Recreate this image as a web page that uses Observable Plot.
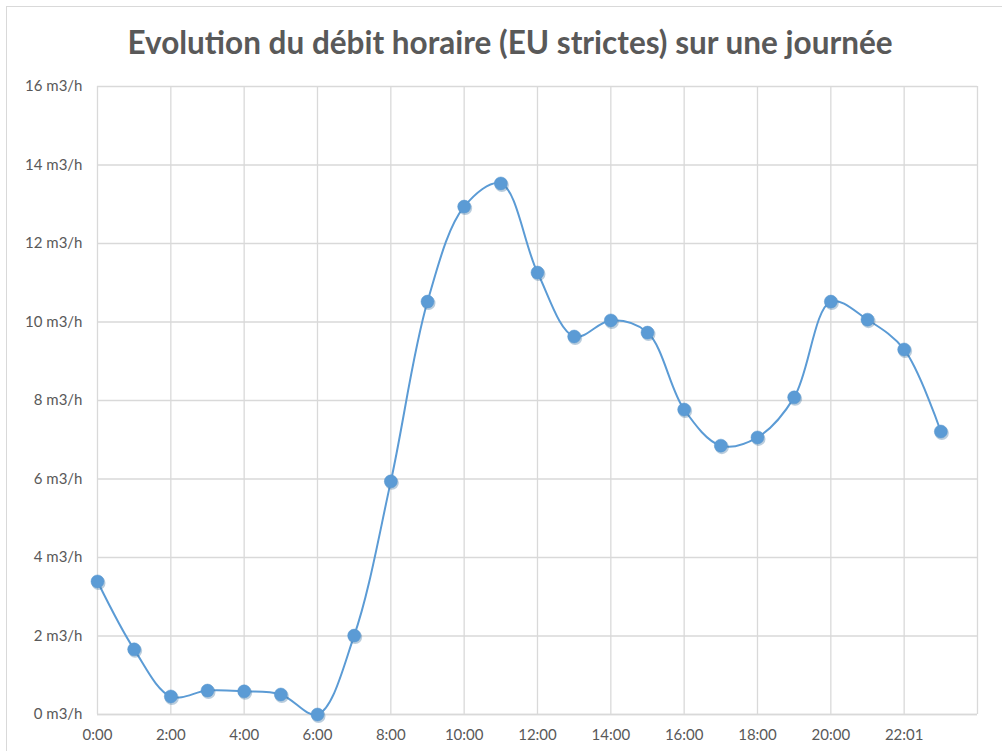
<!DOCTYPE html>
<html>
<head>
<meta charset="utf-8">
<script src="https://cdn.jsdelivr.net/npm/d3@7"></script>
<script src="https://cdn.jsdelivr.net/npm/@observablehq/plot@0.6"></script>
<style>
  html, body { margin: 0; padding: 0; background: #fff; }
  #wrap { position: relative; width: 1002px; height: 751px; overflow: hidden; }
  #frame { position: absolute; left: 6px; top: 6px; width: 1010px; height: 760px;
           border-left: 1.5px solid #d9d9d9; border-top: 1.5px solid #d9d9d9; box-sizing: border-box; }
  #title { position: absolute; left: 0; top: 23px; width: 1020px; text-align: center;
           font-family: Lato, "Open Sans", sans-serif; font-weight: bold; font-size: 31.5px; color: #595959; }
  #chart { position: absolute; left: 0; top: 70px; }
</style>
</head>
<body>
<div id="wrap">
  <div id="frame"></div>
  <div id="title">Evolution du débit horaire (EU strictes) sur une journée</div>
  <div id="chart"></div>
</div>
<script>
const hours = [0,1,2,3,4,5,6,7,8,9,10,11,12,13,14,15,16,17,18,19,20,21,22,23];
const debit = [3.39,1.66,0.46,0.61,0.59,0.51,0.0,2.01,5.94,10.52,12.94,13.53,11.26,9.63,10.04,9.73,7.77,6.85,7.06,8.08,10.52,10.06,9.30,7.21];
const xTicks = [0,2,4,6,8,10,12,14,16,18,20,22];
const xTickLabels = ["0:00","2:00","4:00","6:00","8:00","10:00","12:00","14:00","16:00","18:00","20:00","22:01"];
const xGrid = [0,2,4,6,8,10,12,14,16,18,20,22,24];
const yTicks = [0,2,4,6,8,10,12,14,16];
const yUnit = "m3/h";

const data = hours.map((h, i) => ({h, v: debit[i]}));
const font = "Lato, 'Open Sans', sans-serif";
const labelColor = "#595959";
const gridColor = "#d9d9d9";
const blue = "#5b9bd5";

const chart = Plot.plot({
  width: 1002,
  height: 681,
  marginLeft: 97,
  marginRight: 25,
  marginTop: 16,
  marginBottom: 37,
  style: {fontFamily: font, fontSize: "15px", color: labelColor, background: "transparent"},
  x: {domain: [0, 24]},
  y: {domain: [0, 16]},
  marks: [
    Plot.gridX(xGrid, {stroke: gridColor, strokeOpacity: 1, strokeWidth: 1.3}),
    Plot.gridY(yTicks, {stroke: gridColor, strokeOpacity: 1, strokeWidth: 1.3}),
    Plot.ruleY([0], {stroke: gridColor, strokeWidth: 1.5}),
    Plot.axisX(xTicks, {tickSize: 0, tickPadding: 15, fontSize: 15, fill: labelColor,
      tickFormat: (d) => xTickLabels[xTicks.indexOf(d)], label: null}),
    Plot.axisY(yTicks, {tickSize: 0, tickPadding: 15, fontSize: 15, fill: labelColor,
      tickFormat: (d) => `${d} ${yUnit}`, label: null}),
    Plot.line(data, {x: "h", y: "v", curve: "catmull-rom", stroke: blue, strokeWidth: 2}),
    Plot.dot(data, {x: "h", y: "v", r: 7, fill: "#3a6f9f", fillOpacity: 0.35, dx: 1, dy: 1.5}),
    Plot.dot(data, {x: "h", y: "v", r: 6.5, fill: blue, stroke: "#5896cf", strokeWidth: 0.5})
  ]
});
document.getElementById("chart").appendChild(chart);
</script>
</body>
</html>
